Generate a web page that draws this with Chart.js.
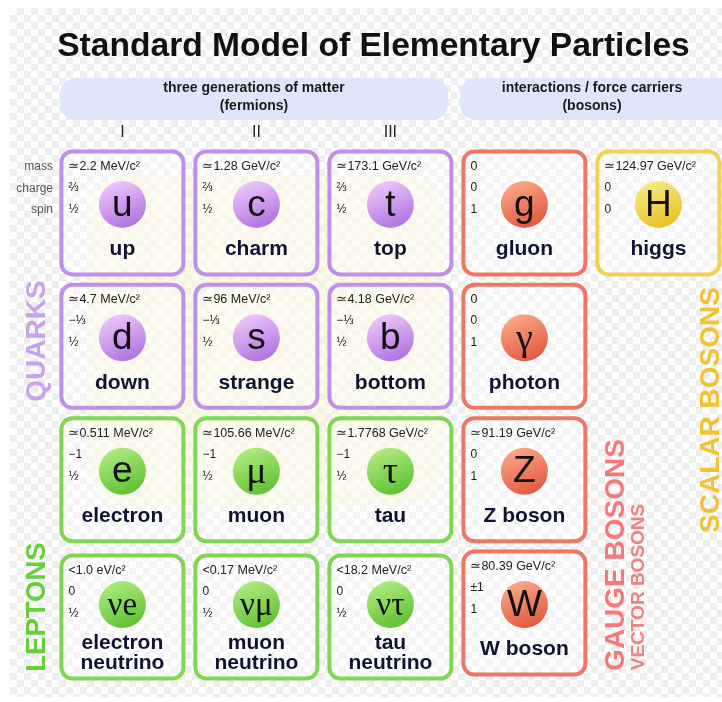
<!DOCTYPE html>
<html><head><meta charset="utf-8">
<script src="https://cdn.jsdelivr.net/npm/chart.js@4.4.1/dist/chart.umd.min.js"></script>
<style>html,body{margin:0;padding:0;background:#fff;overflow:hidden}#c{display:block}</style>
</head><body>
<canvas id="c" width="722" height="702"></canvas>
<script>
// ---- data ----
const chartTitle = 'Standard Model of Elementary Particles';
const groupHeaders = [['three generations of matter', '(fermions)'], ['interactions / force carriers', '(bosons)']];
const generations = ['I', 'II', 'III'];
const propertyLabels = ['mass', 'charge', 'spin'];
const names = ['up', 'charm', 'top', 'gluon', 'higgs',
  'down', 'strange', 'bottom', 'photon',
  'electron', 'muon', 'tau', 'Z boson',
  'electron\nneutrino', 'muon\nneutrino', 'tau\nneutrino', 'W boson'];
const symbols = ['u', 'c', 't', 'g', 'H', 'd', 's', 'b', 'γ', 'e', 'μ', 'τ', 'Z', 'νe', 'νμ', 'ντ', 'W'];
const masses = ['≃2.2 MeV/c²', '≃1.28 GeV/c²', '≃173.1 GeV/c²', '0', '≃124.97 GeV/c²',
  '≃4.7 MeV/c²', '≃96 MeV/c²', '≃4.18 GeV/c²', '0',
  '≃0.511 MeV/c²', '≃105.66 MeV/c²', '≃1.7768 GeV/c²', '≃91.19 GeV/c²',
  '<1.0 eV/c²', '<0.17 MeV/c²', '<18.2 MeV/c²', '≃80.39 GeV/c²'];
const charges = ['⅔', '⅔', '⅔', '0', '0', '−⅓', '−⅓', '−⅓', '0', '−1', '−1', '−1', '0', '0', '0', '0', '±1'];
const spins = ['½', '½', '½', '1', '0', '½', '½', '½', '1', '½', '½', '½', '1', '½', '½', '½', '1'];
const columns = [1, 2, 3, 4, 5, 1, 2, 3, 4, 1, 2, 3, 4, 1, 2, 3, 4];
const rows = [1, 1, 1, 1, 1, 2, 2, 2, 2, 3, 3, 3, 3, 4, 4, 4, 4];
const families = ['quark', 'quark', 'quark', 'gauge', 'scalar',
  'quark', 'quark', 'quark', 'gauge',
  'lepton', 'lepton', 'lepton', 'gauge',
  'lepton', 'lepton', 'lepton', 'gauge'];
const groupLabels = ['QUARKS', 'LEPTONS', 'GAUGE BOSONS', 'VECTOR BOSONS', 'SCALAR BOSONS'];

// ---- styles ----
const SANS = "'Liberation Sans', Arial, sans-serif";
const SERIF = "'Liberation Serif', 'Times New Roman', serif";
const familyStyle = {
  quark: { border: '#c08fec', light: '#efc9fc', dark: '#ad6fde' },
  lepton: { border: '#7fd752', light: '#b2ec82', dark: '#5cbf2e' },
  gauge: { border: '#ee7763', light: '#fbaa8a', dark: '#e0553c' },
  scalar: { border: '#f3d152', light: '#faea84', dark: '#e7bf22' }
};

function roundRect(ctx, x, y, w, h, r) {
  ctx.beginPath();
  ctx.moveTo(x + r, y);
  ctx.lineTo(x + w - r, y);
  ctx.arcTo(x + w, y, x + w, y + r, r);
  ctx.lineTo(x + w, y + h - r);
  ctx.arcTo(x + w, y + h, x + w - r, y + h, r);
  ctx.lineTo(x + r, y + h);
  ctx.arcTo(x, y + h, x, y + h - r, r);
  ctx.lineTo(x, y + r);
  ctx.arcTo(x, y, x + r, y, r);
  ctx.closePath();
}

function boxTop(i, py) { return py - (names[i].includes('\n') ? 49 : 53); }

const decor = {
  id: 'decor',
  beforeDraw(chart) {
    const ctx = chart.ctx;
    ctx.save();
    ctx.fillStyle = '#ffffff';
    ctx.fillRect(0, 0, chart.width, chart.height);
    // transparency checkerboard
    const s = 7;
    ctx.fillStyle = '#eeeeee';
    for (let y = 8, r = 0; y < 697; y += s, r++) {
      for (let x = 10, c = 0; x < chart.width; x += s, c++) {
        if ((r + c) % 2 === 1) ctx.fillRect(x, y, s, Math.min(s, 697 - y));
      }
    }
    // faint background region behind fermions
    ctx.fillStyle = 'rgba(250,246,214,0.55)';
    roundRect(ctx, 88, 175, 355, 330, 40); ctx.fill();
    // header pills
    ctx.fillStyle = '#dee6fb';
    roundRect(ctx, 60, 78, 388, 42, 16); ctx.fill();
    roundRect(ctx, 460, 78, 290, 42, 16); ctx.fill();
    // title
    ctx.fillStyle = '#111111';
    ctx.textAlign = 'center';
    ctx.textBaseline = 'alphabetic';
    ctx.font = 'bold 33.6px ' + SANS;
    ctx.fillText(chartTitle, 373.5, 56, 634);
    // header texts
    ctx.font = 'bold 14px ' + SANS;
    ctx.fillStyle = '#1a1a1a';
    ctx.textBaseline = 'middle';
    ctx.fillText(groupHeaders[0][0], 254, 88);
    ctx.fillText(groupHeaders[0][1], 254, 106);
    ctx.fillText(groupHeaders[1][0], 592, 88);
    ctx.fillText(groupHeaders[1][1], 592, 106);
    // generation numerals
    const xs = chart.scales.x;
    ctx.font = '16px ' + SANS;
    ctx.fillStyle = '#222';
    generations.forEach((g, k) => ctx.fillText(g, xs.getPixelForValue(k + 1), 133));
    // property labels
    ctx.font = '12px ' + SANS;
    ctx.fillStyle = '#555';
    ctx.textAlign = 'right';
    propertyLabels.forEach((p, k) => ctx.fillText(p, 53, 167 + k * 21.5));
    // vertical group labels
    const vlabels = [
      [groupLabels[0], 36, 341, 28, '#c9a1f1'],
      [groupLabels[1], 36, 607, 27.5, '#66cf3a'],
      [groupLabels[2], 615, 555, 28, '#f6797a'],
      [groupLabels[3], 638, 587, 19, '#f2807f'],
      [groupLabels[4], 710, 410, 28, '#f2c233']
    ];
    ctx.textAlign = 'center';
    vlabels.forEach(([t, x, y, fs, col]) => {
      ctx.save();
      ctx.translate(x, y);
      ctx.rotate(-Math.PI / 2);
      ctx.font = 'bold ' + fs + 'px ' + SANS;
      ctx.fillStyle = col;
      ctx.fillText(t, 0, 1);
      ctx.restore();
    });
    ctx.restore();
  },
  beforeDatasetsDraw(chart) {
    const ctx = chart.ctx;
    const pts = chart.getDatasetMeta(0).data;
    ctx.save();
    pts.forEach((el, i) => {
      const st = familyStyle[families[i]];
      const T = boxTop(i, el.y);
      const L = el.x - 61;
      roundRect(ctx, L, T, 122, 123, 11);
      ctx.fillStyle = 'rgba(255,255,255,0.35)';
      ctx.fill();
      ctx.lineWidth = 4;
      ctx.strokeStyle = st.border;
      ctx.stroke();
    });
    ctx.restore();
  },
  afterDatasetsDraw(chart) {
    const ctx = chart.ctx;
    const pts = chart.getDatasetMeta(0).data;
    ctx.save();
    pts.forEach((el, i) => {
      const T = boxTop(i, el.y);
      const L = el.x - 61;
      // symbol
      const sym = symbols[i];
      const greek = /[γμτν]/.test(sym);
      ctx.fillStyle = '#111';
      ctx.textAlign = 'center';
      ctx.textBaseline = 'middle';
      ctx.font = (greek ? (sym.length > 1 ? '33px ' : '38px ') + SERIF : '37px ' + SANS);
      ctx.fillText(sym, el.x, el.y + (greek ? 2 : 1));
      // properties
      ctx.textAlign = 'left';
      ctx.fillStyle = '#222';
      ctx.font = '12.5px ' + SANS;
      ctx.fillText(masses[i], L + 7, T + 15);
      ctx.font = '12px ' + SANS;
      ctx.fillText(charges[i], L + 7, T + 36);
      ctx.fillText(spins[i], L + 7, T + 58);
      // name
      ctx.textAlign = 'center';
      ctx.fillStyle = '#101432';
      ctx.font = 'bold 21px ' + SANS;
      const lines = names[i].split('\n');
      if (lines.length === 1) ctx.fillText(lines[0], el.x, T + 98);
      else { ctx.fillText(lines[0], el.x, T + 88); ctx.fillText(lines[1], el.x, T + 108); }
    });
    ctx.restore();
  }
};

const points = columns.map((c, i) => ({ x: c, y: rows[i] }));

new Chart(document.getElementById('c'), {
  type: 'scatter',
  data: {
    datasets: [{
      data: points,
      pointRadius: 23.5,
      pointHoverRadius: 23.5,
      borderWidth: 0,
      pointBorderWidth: 0,
      backgroundColor(ctx) {
        const chart = ctx.chart;
        const i = ctx.dataIndex;
        if (i === undefined) return '#ccc';
        const st = familyStyle[families[i]];
        const sx = chart.scales && chart.scales.x, sy = chart.scales && chart.scales.y;
        if (!sx || !sy) return st.dark;
        const x = sx.getPixelForValue(columns[i]);
        const y = sy.getPixelForValue(rows[i]);
        if (!isFinite(x) || !isFinite(y)) return st.dark;
        const g = chart.ctx.createLinearGradient(x - 10, y - 24, x + 10, y + 24);
        g.addColorStop(0, st.light);
        g.addColorStop(1, st.dark);
        return g;
      }
    }]
  },
  options: {
    responsive: false,
    animation: false,
    events: [],
    layout: { padding: 0, autoPadding: false },
    plugins: { legend: { display: false }, tooltip: { enabled: false }, title: { display: false } },
    scales: {
      x: { type: 'linear', display: false, min: 0.0866, max: 5.4747 },
      y: { type: 'linear', display: false, reverse: true, min: -0.5322, max: 4.7302 }
    }
  },
  plugins: [decor]
});
</script>
</body></html>
